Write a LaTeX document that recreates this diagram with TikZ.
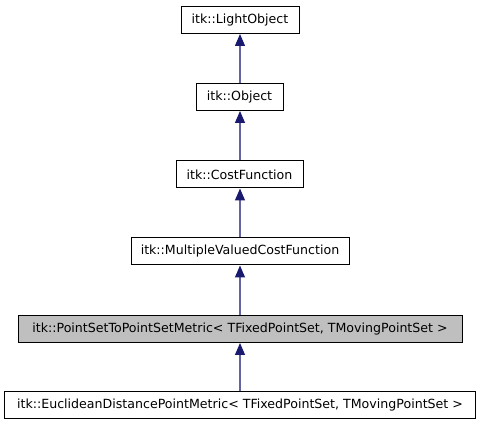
\documentclass[tikz,border=0pt]{standalone}
\usepackage{fontspec}
\setmainfont{DejaVu Sans}
\usetikzlibrary{arrows.meta}
\definecolor{edgeblue}{HTML}{6464A4}
\definecolor{tipblue}{HTML}{191970}
\definecolor{cur}{HTML}{BFBFBF}
\tikzset{
  cls/.style={draw=black, line width=1pt, fill=white, minimum height=27pt, inner sep=0pt, font=\fontsize{12.6}{14}\selectfont},
  inh/.style={draw=edgeblue, line width=1.1pt, -{Triangle[length=12pt,width=10pt,color=tipblue]}}
}
\begin{document}
\begin{tikzpicture}[x=1pt,y=1pt]
\useasboundingbox (0,0) rectangle (480,-427);
\node[cls, minimum width=118pt] (lo) at (240,-20) {itk::LightObject};
\node[cls, minimum width=87pt] (ob) at (239.5,-97) {itk::Object};
\node[cls, minimum width=127pt] (cf) at (239.5,-174.5) {itk::CostFunction};
\node[cls, minimum width=218pt] (mv) at (240,-251.5) {itk::MultipleValuedCostFunction};
\node[cls, minimum width=444pt, fill=cur] (ps) at (240,-329) {itk::PointSetToPointSetMetric< TFixedPointSet, TMovingPointSet >};
\node[cls, minimum width=471pt] (eu) at (240,-405.5) {itk::EuclideanDistancePointMetric< TFixedPointSet, TMovingPointSet >};
\draw[inh] (ob.north -| lo.south) -- (lo.south);
\draw[inh] (cf.north -| lo.south) -- (ob.south -| lo.south);
\draw[inh] (mv.north -| lo.south) -- (cf.south -| lo.south);
\draw[inh] (ps.north -| lo.south) -- (mv.south -| lo.south);
\draw[inh] (eu.north -| lo.south) -- (ps.south -| lo.south);
\end{tikzpicture}
\end{document}
